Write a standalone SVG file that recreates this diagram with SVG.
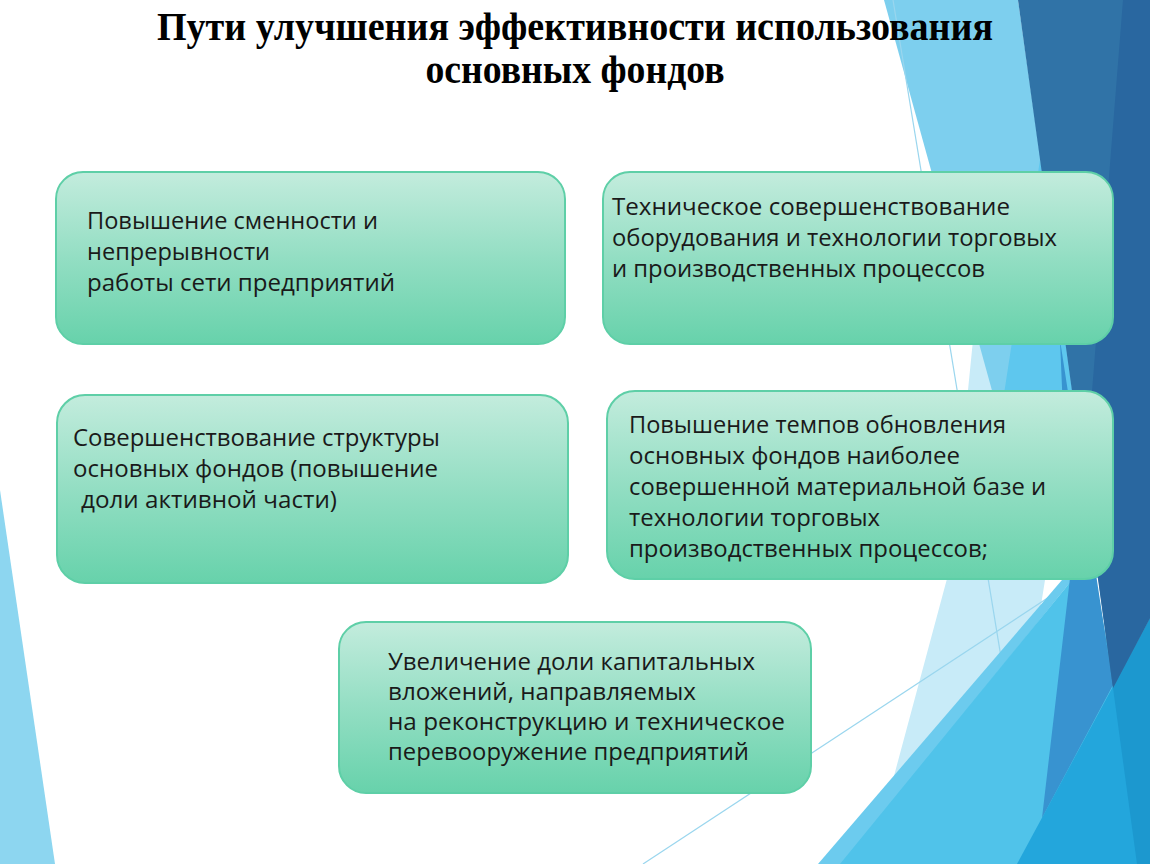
<svg xmlns="http://www.w3.org/2000/svg" width="1150" height="864" viewBox="0 0 1150 864">
<defs>
<linearGradient id="boxFill" x1="0" y1="0" x2="0" y2="1">
<stop offset="0" stop-color="#c3ecdd"/>
<stop offset="0.5" stop-color="#93dec3"/>
<stop offset="1" stop-color="#67d2ab"/>
</linearGradient>
<style>
.box{fill:url(#boxFill);stroke:#5ecfa7;stroke-width:2}
.t{font-family:"Open Sans","Noto Sans","DejaVu Sans",sans-serif;font-size:24px;fill:#1a1a1a}
.title{font-family:"Liberation Serif","Times New Roman",serif;font-size:40px;font-weight:bold;fill:#000}
.thin{fill:none;stroke:#9ad6ee;stroke-width:1.2}
</style>
</defs>
<rect width="1150" height="864" fill="#ffffff"/>
<g id="background">
<polygon points="0,490 55,864 0,864" fill="#8dd6f0"/>
<polygon points="975,320 1045,580 1000,864 845,864 887,802 948,575 965,420" fill="#c8ebf8"/>
<polygon points="884,0 1018,0 1075,400 1070,578 1043,575" fill="#7dcfee"/>
<polygon points="1040,160 1098,578 1070,578 1000,420" fill="#5ec7ee"/>
<line class="thin" x1="893" y1="0" x2="1035" y2="864"/>
<line class="thin" x1="643" y1="864" x2="1075" y2="580"/>
<polygon points="818,864 842,864 1072,580 1062,580" fill="#6ccbee"/>
<polygon points="840,864 1072,580 1095,580 1150,864" fill="#50c3ea"/>
<polygon points="1060,340 1113,685 1042,818 1070,578" fill="#3893d0"/>
<polygon points="1150,618 1150,864 1017,864" fill="#23a6dc"/>
<polygon points="1113,688 1150,618 1150,864 1137,864" fill="#1c98cf"/>
<polygon points="1018,0 1150,0 1150,618 1113,688" fill="#3073a7"/>
<polygon points="1123,0 1150,0 1150,618 1113,688 1085,480" fill="#2967a0"/>
</g>
<g id="title">
<text class="title" x="575" y="40" text-anchor="middle" textLength="836" lengthAdjust="spacingAndGlyphs">Пути улучшения эффективности использования</text>
<text class="title" x="575" y="83" text-anchor="middle" textLength="299" lengthAdjust="spacingAndGlyphs">основных фондов</text>
</g>
<g id="connectors"/>
<g id="node1">
<rect class="box" x="56" y="172" width="509" height="172" rx="27"/>
<text class="t" x="87" y="229" textLength="291" lengthAdjust="spacingAndGlyphs">Повышение сменности и</text>
<text class="t" x="87" y="260" textLength="183" lengthAdjust="spacingAndGlyphs">непрерывности</text>
<text class="t" x="87" y="291" textLength="308" lengthAdjust="spacingAndGlyphs">работы сети предприятий</text>
</g>
<g id="node2">
<rect class="box" x="603" y="172" width="510" height="172" rx="27"/>
<text class="t" x="612" y="215" textLength="398" lengthAdjust="spacingAndGlyphs">Техническое совершенствование</text>
<text class="t" x="612" y="246" textLength="445" lengthAdjust="spacingAndGlyphs">оборудования и технологии торговых</text>
<text class="t" x="612" y="277" textLength="373" lengthAdjust="spacingAndGlyphs">и производственных процессов</text>
</g>
<g id="node3">
<rect class="box" x="57" y="395" width="511" height="188" rx="28"/>
<text class="t" x="73" y="446" textLength="367" lengthAdjust="spacingAndGlyphs">Совершенствование структуры</text>
<text class="t" x="73" y="477" textLength="365" lengthAdjust="spacingAndGlyphs">основных фондов (повышение</text>
<text class="t" x="81" y="508" textLength="256" lengthAdjust="spacingAndGlyphs">доли активной части)</text>
</g>
<g id="node4">
<rect class="box" x="607" y="391" width="506" height="188" rx="28"/>
<text class="t" x="629" y="433" textLength="377" lengthAdjust="spacingAndGlyphs">Повышение темпов обновления</text>
<text class="t" x="629" y="464" textLength="331" lengthAdjust="spacingAndGlyphs">основных фондов наиболее</text>
<text class="t" x="629" y="495" textLength="417" lengthAdjust="spacingAndGlyphs">совершенной материальной базе и</text>
<text class="t" x="629" y="526" textLength="251" lengthAdjust="spacingAndGlyphs">технологии торговых</text>
<text class="t" x="629" y="557" textLength="359" lengthAdjust="spacingAndGlyphs">производственных процессов;</text>
</g>
<g id="node5">
<rect class="box" x="339" y="622" width="472" height="171" rx="27"/>
<text class="t" x="388" y="670" textLength="367" lengthAdjust="spacingAndGlyphs">Увеличение доли капитальных</text>
<text class="t" x="388" y="700" textLength="308" lengthAdjust="spacingAndGlyphs">вложений, направляемых</text>
<text class="t" x="388" y="730" textLength="397" lengthAdjust="spacingAndGlyphs">на реконструкцию и техническое</text>
<text class="t" x="388" y="760" textLength="361" lengthAdjust="spacingAndGlyphs">перевооружение предприятий</text>
</g>
</svg>
